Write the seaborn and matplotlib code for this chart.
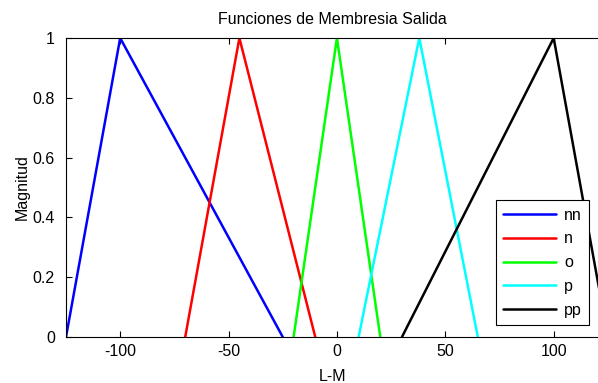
import matplotlib
matplotlib.use("Agg")
import matplotlib.pyplot as plt
import seaborn as sns
import pandas as pd

# Triangular membership functions: (a, b, c) breakpoints of trimf
labels = ["nn", "n", "o", "p", "pp"]
nn = [-125, -100, -25]
n = [-70, -45, -10]
o = [-20, 0, 20]
p = [10, 38, 65]
pp = [30, 100, 125]
memb = [0, 1, 0]
colors = ["#0000ff", "#ff0000", "#00ff00", "#00ffff", "#000000"]
xticks = [-100, -50, 0, 50, 100]
yticks = [0, 0.2, 0.4, 0.6, 0.8, 1]

rows = []
for name, pts in zip(labels, [nn, n, o, p, pp]):
    for x, y in zip(pts, memb):
        rows.append({"L-M": x, "Magnitud": y, "fm": name})
df = pd.DataFrame(rows)

sns.set_theme(style="white")
plt.rcParams["font.family"] = ["Liberation Sans", "DejaVu Sans"]
plt.rcParams["text.color"] = "black"
plt.rcParams["axes.labelcolor"] = "black"

fs = 11.5
fig = plt.figure(figsize=(5.98, 3.83), dpi=100)
ax = fig.add_axes([66 / 598, 46 / 383, 1 - 66 / 598 + 0.002, 299 / 383])

sns.lineplot(data=df, x="L-M", y="Magnitud", hue="fm", palette=colors,
             sort=False, estimator=None, linewidth=1.8, ax=ax)

ax.set_xlim(-125, 121)
ax.set_ylim(0, 1)
ax.set_xticks(xticks)
ax.set_xticklabels([str(t) for t in xticks])
ax.set_yticks(yticks)
ax.set_yticklabels(["0", "0.2", "0.4", "0.6", "0.8", "1"])
ax.tick_params(direction="in", length=4, width=0.8, colors="black",
               labelsize=fs, top=True, bottom=True, left=True, right=False)
ax.tick_params(axis="x", pad=5)
ax.tick_params(axis="y", pad=8)
for side in ["left", "bottom", "top"]:
    ax.spines[side].set_color("black")
    ax.spines[side].set_linewidth(0.8)
ax.spines["right"].set_visible(False)

ax.set_xlabel("L-M", fontsize=fs, labelpad=7, color="black")
ax.set_ylabel("Magnitud", fontsize=fs, labelpad=2, color="black")
ax.set_title("Funciones de Membresia Salida", fontsize=fs, pad=10, color="black")

leg = ax.legend(loc="lower right", bbox_to_anchor=(589 / 598, 58 / 383),
                bbox_transform=fig.transFigure, borderaxespad=0,
                frameon=True, fancybox=False,
                fontsize=fs, handlelength=3.3, labelspacing=0.55,
                borderpad=0.45, handletextpad=0.5, title=None)
leg.get_frame().set_edgecolor("black")
leg.get_frame().set_linewidth(0.8)
leg.get_frame().set_alpha(1)
for h in leg.get_lines():
    h.set_linewidth(1.8)
for t in leg.get_texts():
    t.set_color("black")

fig.savefig("out.png", dpi=100)
